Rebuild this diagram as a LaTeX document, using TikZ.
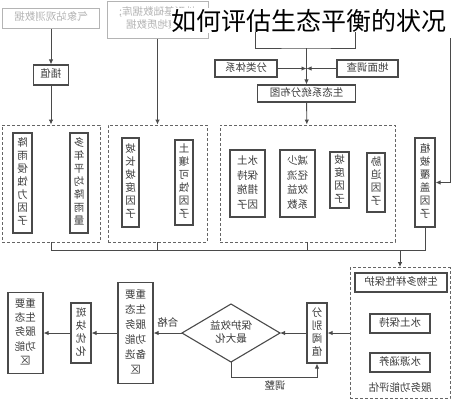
\documentclass[tikz,border=0pt]{standalone}
\usepackage{fontspec}
\newfontfamily\cjk{Noto Sans CJK SC}
\usetikzlibrary{arrows.meta}
\definecolor{lnc}{HTML}{4A4A4A}
\definecolor{txc}{HTML}{3C3C3C}
\definecolor{fdc}{HTML}{B4B4B4}
\newcommand\mts[2]{\reflectbox{\renewcommand\arraystretch{#1}\begin{tabular}{@{}c@{}}#2\end{tabular}}}
\newcommand\mt[1]{\mts{1}{#1}}
\begin{document}
\begin{tikzpicture}[x=1pt,y=-1pt,
  box/.style={draw=lnc, line width=1.1pt, inner sep=0pt, text=txc, font=\cjk\fontsize{10.5}{13}\selectfont},
  fbox/.style={draw=fdc, line width=1pt, inner sep=0pt, text=fdc, font=\cjk\fontsize{10.5}{13}\selectfont},
  grp/.style={draw=lnc!85, line width=0.9pt, dash pattern=on 3pt off 2pt, inner sep=0pt},
  wire/.style={draw=lnc, line width=0.9pt},
  arr/.style={draw=lnc, line width=0.9pt, -{Latex[length=5pt,width=4.5pt]}},
  lbl/.style={text=txc, font=\cjk\fontsize{10.5}{13}\selectfont, inner sep=1pt}]
\useasboundingbox (0,0) rectangle (452,400);

% top sources
\node[fbox, minimum width=97pt, minimum height=20pt] (obs) at (51,18) {\mt{气象站观测数据}};
\node[fbox, minimum width=101pt, minimum height=37pt] (base) at (157.5,19.5) {\mt{地形基础数据库;\\土壤地质数据}};
\node[fill=white, inner sep=1pt, font=\cjk\fontsize{25}{28}\selectfont] (title) at (309,20.5) {如何评估生态平衡的状况};

\node[box, minimum width=35pt, minimum height=20pt] (interp) at (51,75) {\mt{插值}};
\node[box, minimum width=62pt, minimum height=17pt] (cls) at (246,68.5) {\mt{分类体系}};
\node[box, minimum width=61pt, minimum height=17pt] (survey) at (367.5,68.5) {\mt{地面调查}};
\coordinate (J) at (306.5,68.5);
\node[box, minimum width=98pt, minimum height=17pt] (dist) at (306.5,93.5) {\mt{生态系统分布图}};

% factor groups
\node[grp, minimum width=98pt, minimum height=117pt] (g1) at (51,183.5) {};
\node[grp, minimum width=99pt, minimum height=117pt] (g2) at (157.5,183.5) {};
\node[grp, minimum width=175pt, minimum height=117pt] (g3) at (307.5,183.5) {};

\node[box, minimum width=19pt, minimum height=100pt] (erosiv) at (22.5,183) {\mt{降\\雨\\侵\\蚀\\力\\因\\子}};
\node[box, minimum width=18pt, minimum height=100pt] (rainm) at (79,183) {\mt{多\\年\\平\\均\\降\\雨\\量}};
\node[box, minimum width=17pt, minimum height=89pt] (slope) at (130.5,182.5) {\mt{坡\\长\\坡\\度\\因\\子}};
\node[box, minimum width=18pt, minimum height=85pt] (soilk) at (184,182.5) {\mt{土\\壤\\可\\蚀\\因\\子}};
\node[box, minimum width=35pt, minimum height=67pt] (pfac) at (247.5,183.5) {\mts{1.15}{水土\\保持\\措施\\因子}};
\node[box, minimum width=35pt, minimum height=67pt] (runoff) at (297.5,183.5) {\mts{1.15}{减少\\径流\\效益\\系数}};
\node[box, minimum width=19pt, minimum height=56pt] (slp2) at (339.5,180) {\mt{坡\\度\\因\\子}};
\node[box, minimum width=18pt, minimum height=59pt] (stress) at (376,182.5) {\mt{胁\\迫\\因\\子}};
\node[box, minimum width=20pt, minimum height=89pt] (veg) at (425,182.5) {\mt{植\\被\\覆\\盖\\因\\子}};

% evaluation group
\node[grp, minimum width=100pt, minimum height=131pt] (g4) at (400,333) {};
\node[box, minimum width=92pt, minimum height=19pt] (bio) at (401,282.5) {\mt{生物多样性保护}};
\node[box, minimum width=60pt, minimum height=19pt] (soil) at (400,323.5) {\mt{水土保持}};
\node[box, minimum width=60pt, minimum height=19pt] (water) at (400,362.5) {\mt{水源涵养}};
\node[lbl] (eval) at (400,389) {\mt{服务功能评估}};

\node[box, minimum width=20pt, minimum height=60pt] (thr) at (317,333) {\mt{分\\别\\阈\\值}};
\coordinate (dl) at (182,333);
\coordinate (dt) at (231,304);
\coordinate (dr) at (280,333);
\coordinate (db) at (231,362);
\draw[wire, line width=1.1pt] (dl) -- (dt) -- (dr) -- (db) -- cycle;
\node[lbl] (dtext) at (231,333) {\mt{保护效益\\最大化}};
\node[box, minimum width=35pt, minimum height=101pt] (alt) at (135.5,333) {\mts{1.15}{重要\\生态\\服务\\功能\\备选\\区}};
\node[box, minimum width=20pt, minimum height=60pt] (patch) at (81,333) {\mt{斑\\块\\优\\化}};
\node[box, minimum width=35pt, minimum height=81pt] (final) at (25.5,333) {\mts{1.1}{重要\\生态\\服务\\功能\\区}};
\node[lbl] (adj) at (275,387) {\mt{调整}};

% connectors, top
\draw[arr] (obs) -- (interp);
\draw[arr] (interp) -- (g1);
\draw[arr] (base) -- (g2);
\coordinate (bl) at (255,32);
\coordinate (br) at (355,32);
\coordinate (bm) at (306.5,48);
\draw[wire] (bl) |- (bm) -| (br);
\draw[arr] (bm) -- (dist);
\draw[arr] (cls) -- (J);
\draw[arr] (survey) -- (J);
\draw[arr] (dist) -- (g3);
\coordinate (rt) at (450,38);
\draw[arr] (rt) |- (veg);

% collector
\coordinate (b1) at (51,250);
\coordinate (b4) at (425,250);
\coordinate (bm2) at (400,250);
\draw[wire] (g1.south) -- (b1) -- (b4) -- (veg.south);
\draw[wire] (g2.south) -- (g2.south |- b1);
\draw[wire] (g3.south) -- (g3.south |- b1);
\draw[arr] (bm2) -- (g4);

% bottom row
\draw[arr] (g4) -- (thr);
\draw[arr] (thr) -- (dr);
\draw[arr] (dl) -- node[lbl, above=1pt] (ok) {\mt{合格}} (alt);
\draw[arr] (alt) -- (patch);
\draw[arr] (patch) -- (final);
\coordinate (lp) at (231,377);
\draw[arr] (db) -- (lp) -| (thr.south);
\end{tikzpicture}
\end{document}
